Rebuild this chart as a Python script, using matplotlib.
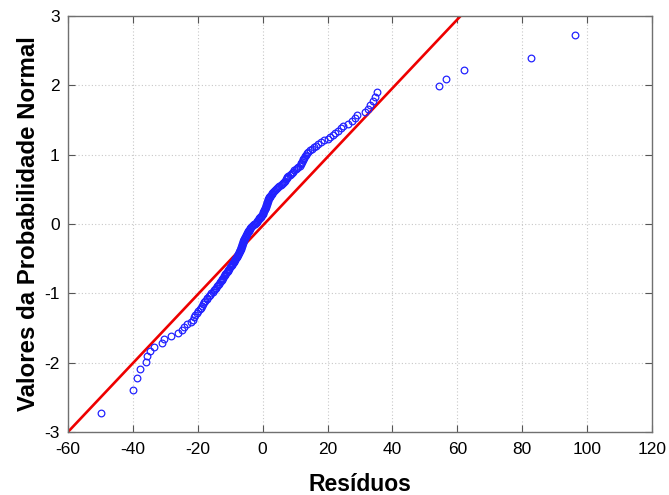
import numpy as np
import matplotlib
matplotlib.use('Agg')
import matplotlib.pyplot as plt
from statistics import NormalDist

# residuals, sorted ascending
residuos = [
    -49.8, -40.0, -38.6, -37.8, -35.9, -35.5, -34.6, -33.4, -31.0, -30.4,
    -28.4, -26.2, -25.0, -24.2, -23.3, -22.0, -21.6, -21.2, -20.8, -20.3,
    -19.8, -19.3, -19.0, -18.7, -18.4, -18.1, -17.7, -17.3, -17.0, -16.6,
    -16.2, -15.8, -15.3, -15.0, -14.7, -14.4, -14.0, -13.8, -13.4, -13.1,
    -12.9, -12.6, -12.4, -12.2, -12.0, -11.7, -11.5, -11.3, -11.0, -10.8,
    -10.6, -10.4, -10.2, -9.9, -9.6, -9.4, -9.1, -8.9, -8.7, -8.5,
    -8.4, -8.2, -8.0, -7.9, -7.7, -7.6, -7.4, -7.3, -7.1, -7.0,
    -6.9, -6.8, -6.7, -6.6, -6.5, -6.4, -6.3, -6.2, -6.1, -6.0,
    -5.9, -5.7, -5.6, -5.4, -5.3, -5.2, -5.0, -4.9, -4.7, -4.6,
    -4.4, -4.3, -4.1, -4.0, -3.8, -3.6, -3.3, -3.0, -2.7,
    -2.4, -2.1, -1.8, -1.6, -1.4, -1.2, -1.0, -0.8, -0.6, -0.4,
    -0.2, 0.0, 0.1, 0.2, 0.3, 0.4, 0.6, 0.7, 0.8, 0.9,
    1.0, 1.1, 1.2, 1.3, 1.4, 1.5, 1.6, 1.7, 1.9, 2.0,
    2.2, 2.4, 2.6, 2.8, 3.0, 3.2, 3.4, 3.7, 4.0, 4.3,
    4.6, 5.1, 5.6, 6.0, 6.3, 6.6, 6.9, 7.1, 7.4, 7.6,
    7.9, 8.3, 8.6, 9.0, 9.4, 9.8, 10.2, 10.5, 11.0, 11.4,
    11.7, 11.9, 12.1, 12.3, 12.5, 12.8, 13.1, 13.4, 13.7, 13.9,
    14.6, 15.2, 15.8, 16.4, 17.0, 17.9, 19.0, 20.0, 20.8, 21.6,
    22.4, 23.2, 24.0, 24.8, 26.2, 27.5, 28.6, 29.2, 31.6, 32.4,
    33.2, 33.9, 34.5, 35.2, 54.2, 56.6, 62.2, 82.8, 96.3,
]

# reference normal line: y = (x - mean) / sd
line_mean = 0.5
line_sd = 20.17

x_ticks = [-60, -40, -20, 0, 20, 40, 60, 80, 100, 120]
y_ticks = [-3, -2, -1, 0, 1, 2, 3]

# expected normal values from ranks (Blom positions)
n = len(residuos)
nd = NormalDist()
esperado = [nd.inv_cdf((i + 1 - 0.375) / (n + 0.25)) for i in range(n)]

plt.rcParams['font.family'] = ['Liberation Sans', 'DejaVu Sans']
plt.rcParams['axes.unicode_minus'] = False

fig = plt.figure(figsize=(6.69, 4.95), dpi=100)
ax = fig.add_axes([0.1016, 0.1273, 0.8730, 0.8404])

xl = np.array([x_ticks[0], x_ticks[-1]])
ax.plot(xl, (xl - line_mean) / line_sd, color='#ee0000', lw=1.9, zorder=2)
ax.plot(residuos, esperado, 'o', mfc='none', mec='#2222ff', mew=0.9,
        ms=4.8, zorder=3)

ax.set_xlim(x_ticks[0], x_ticks[-1])
ax.set_ylim(y_ticks[0], y_ticks[-1])
ax.set_xticks(x_ticks)
ax.set_yticks(y_ticks)
ax.tick_params(direction='in', length=5, width=0.8, color='#555555',
               labelsize=12.5, top=True, right=True)
ax.tick_params(axis='x', pad=7)
ax.tick_params(axis='y', pad=6)
ax.grid(True, color='#c8c8c8', ls=(0, (1, 2)), lw=0.8)
ax.set_axisbelow(True)
for s in ax.spines.values():
    s.set_color('#707070')
    s.set_linewidth(1.0)

ax.set_xlabel('Resíduos', fontsize=16.5, fontweight='bold', labelpad=12)
ax.set_ylabel('Valores da Probabilidade Normal', fontsize=17.3,
              fontweight='bold', labelpad=3)

fig.savefig('out.png', dpi=100)
